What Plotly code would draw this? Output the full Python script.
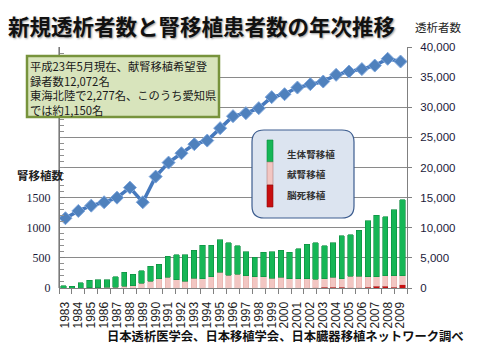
import plotly.graph_objects as go

# ---- data ----
line_years = ["1983", "1984", "1985", "1986", "1987", "1988", "1989", "1990", "1991",
              "1992", "1993", "1994", "1995", "1996", "1997", "1998", "1999", "2000",
              "2001", "2002", "2003", "2004", "2005", "2006", "2007", "2008", "2009"]
dialysis_new = [11580, 12790, 13670, 14230, 15000, 16660, 14230, 18490, 20810,
                22370, 23870, 24470, 26530, 28520, 29020, 29850, 31680, 32170,
                33270, 33830, 34270, 35380, 35930, 36330, 36920, 38040, 37590]

bar_years = ["1970", "1971", "1972", "1973", "1974", "1975", "1976", "1977", "1978", "1979",
             "1980", "1981", "1982", "1983", "1984", "1985", "1986", "1987", "1988", "1989",
             "1990", "1991", "1992", "1993", "1994", "1995", "1996", "1997", "1998", "1999",
             "2000", "2001", "2002", "2003", "2004", "2005", "2006", "2007", "2008", "2009"]
total_tx = [40, 30, 90, 125, 135, 138, 188, 262, 228, 290,
            358, 395, 527, 548, 550, 628, 712, 712, 797, 750,
            700, 598, 507, 595, 598, 628, 595, 655, 728, 755,
            700, 755, 867, 883, 961, 1117, 1211, 1183, 1300, 1461]
cadaver_tx = [0, 0, 0, 5, 5, 10, 15, 25, 40, 80,
              115, 150, 180, 140, 115, 158, 150, 186, 258, 214,
              230, 200, 190, 190, 165, 175, 155, 155, 155, 140,
              140, 160, 145, 185, 185, 170, 165, 175, 185, 150]
braindeath_tx = [0, 0, 0, 0, 0, 0, 0, 0, 0, 0,
                 0, 0, 0, 0, 0, 0, 0, 0, 0, 0,
                 0, 0, 0, 0, 0, 0, 0, 0, 0, 8,
                 12, 15, 10, 6, 6, 15, 25, 25, 15, 55]
living_tx = [t - c - b for t, c, b in zip(total_tx, cadaver_tx, braindeath_tx)]

left_ticks = [0, 500, 1000, 1500]

# ---- geometry helpers (pixel -> paper) ----
L, R, T, B = 59, 407, 47, 288
def fx(px): return (px - L) / (R - L)
def fy(py): return (B - py) / (B - T)

JP = "Noto Sans CJK JP"

fig = go.Figure()
fig.add_trace(go.Bar(x=bar_years, y=braindeath_tx, name="脳死移植", xaxis="x", yaxis="y",
                     marker=dict(color="#c80f10", line=dict(color="#8f0a0a", width=0.5))))
fig.add_trace(go.Bar(x=bar_years, y=cadaver_tx, name="献腎移植", xaxis="x", yaxis="y",
                     marker=dict(color="#f2c6c2", line=dict(color="#e2a9a4", width=0.5))))
fig.add_trace(go.Bar(x=bar_years, y=living_tx, name="生体腎移植", xaxis="x", yaxis="y",
                     marker=dict(color="#16b656", line=dict(color="#0c8a3e", width=0.6))))
fig.add_trace(go.Scatter(x=line_years, y=dialysis_new, name="透析者数", xaxis="x2", yaxis="y2",
                         mode="lines+markers",
                         line=dict(color="#4679bd", width=3.5),
                         marker=dict(symbol="diamond", size=10, color="#4f81bd",
                                     line=dict(color="#7ea6dc", width=1))))

fig.update_layout(
    width=499, height=359,
    margin=dict(l=L, r=499 - R, t=T, b=359 - B),
    paper_bgcolor="white", plot_bgcolor="white",
    barmode="stack", bargap=0.38, showlegend=False,
    font=dict(family="Liberation Sans", color="#222"),
    xaxis=dict(type="category", categoryorder="array", categoryarray=bar_years,
               range=[-0.5, len(bar_years) - 0.5],
               showticklabels=False, ticks="", showgrid=False, showline=False, zeroline=False),
    xaxis2=dict(type="category", categoryorder="array", categoryarray=line_years,
                range=[-0.5, len(line_years) - 0.5],
                overlaying="x", side="bottom",
                tickmode="linear", dtick=1,
                tickson="boundaries", ticks="outside", ticklen=5, tickcolor="#808080",
                tickangle=-90, tickfont=dict(size=12, family="Liberation Sans", color="#222"),
                showline=True, linecolor="#808080", showgrid=False, ticklabelstandoff=8),
    yaxis=dict(range=[0, 4000], tickmode="array", tickvals=left_ticks,
               anchor="free", position=0,
               ticks="inside", ticklen=5, tickcolor="#808080",
               showline=True, linecolor="#7a7a7a", linewidth=1.2,
               showgrid=False, zeroline=False,
               tickfont=dict(size=12, family="Liberation Sans Narrow", color="#1a1a3a"),
               ticklabelstandoff=6,
               minor=dict(ticks="inside", ticklen=4, dtick=100, tick0=0, tickcolor="#909090")),
    yaxis2=dict(range=[0, 40000], dtick=5000, tickformat=",", overlaying="y", side="right",
                showgrid=True, gridcolor="#8a8a8a", gridwidth=1, zeroline=False,
                showline=True, linecolor="#808080", ticks="outside", ticklen=4,
                tickcolor="#808080", ticklabelstandoff=6,
                tickfont=dict(size=11.5, family="Liberation Sans", color="#1a1a3a")),
)

shapes = []
# left axis line (ensures visibility)
shapes.append(dict(type="line", xref="paper", yref="paper", x0=0, x1=0, y0=0, y1=1,
                   line=dict(color="#7a7a7a", width=1.2), layer="above"))
# note box
shapes.append(dict(type="rect", xref="paper", yref="paper",
                   x0=fx(27), x1=fx(219), y0=fy(117), y1=fy(56),
                   fillcolor="#d8e4bc", line=dict(color="#77933c", width=2.5), layer="above"))
# legend rounded box
x0, x1, y0, y1 = fx(252), fx(354), fy(218), fy(130)
rx, ry = 12 / (R - L), 12 / (B - T)
path = (f"M {x0+rx},{y0} L {x1-rx},{y0} Q {x1},{y0} {x1},{y0+ry} "
        f"L {x1},{y1-ry} Q {x1},{y1} {x1-rx},{y1} L {x0+rx},{y1} Q {x0},{y1} {x0},{y1-ry} "
        f"L {x0},{y0+ry} Q {x0},{y0} {x0+rx},{y0} Z")
shapes.append(dict(type="path", xref="paper", yref="paper", path=path,
                   fillcolor="#dce4f0", line=dict(color="#3d5d8f", width=1.2), layer="above"))
# legend icon
shapes.append(dict(type="rect", xref="paper", yref="paper", x0=fx(267), x1=fx(273),
                   y0=fy(162), y1=fy(140), fillcolor="#16b656",
                   line=dict(color="#0c8a3e", width=0.6), layer="above"))
shapes.append(dict(type="rect", xref="paper", yref="paper", x0=fx(267), x1=fx(273),
                   y0=fy(185), y1=fy(162), fillcolor="#f2c6c2",
                   line=dict(color="#b08080", width=0.6), layer="above"))
shapes.append(dict(type="rect", xref="paper", yref="paper", x0=fx(267), x1=fx(273),
                   y0=fy(207), y1=fy(185), fillcolor="#c80f10",
                   line=dict(color="#8f0a0a", width=0.6), layer="above"))
fig.update_layout(shapes=shapes)

ann = []
def text(px, py, s, size, anchor="left", bold=False, color="#222", family=JP, shadow=None,
         yanchor="middle"):
    f = dict(size=size, family=family, color=color, weight="bold" if bold else "normal")
    if shadow:
        f["shadow"] = shadow
    ann.append(dict(x=fx(px), y=fy(py), xref="paper", yref="paper", text=s, align="left",
                    showarrow=False, xanchor=anchor, yanchor=yanchor, font=f))

text(6, 25, "新規透析者数と腎移植患者数の年次推移", 21.5, bold=True, color="#111",
     shadow="1px 1px 2px #999")
text(438, 27, "透析者数", 11.5, anchor="center", color="#222")
text(40, 175, "腎移植数", 11.5, anchor="center", bold=True, color="#222")
note_lines = ["平成23年5月現在、献腎移植希望登", "録者数12,072名",
              "東海北陸で2,277名、このうち愛知県", "では約1,150名"]
text(28, 88, "<br>".join(note_lines), 11.3, color="#1a1a1a")
text(285, 154, "生体腎移植", 9.6, bold=True, color="#333")
text(285, 174, "献腎移植", 9.6, bold=True, color="#333")
text(285, 195, "脳死移植", 9.6, bold=True, color="#333")
text(285, 336, "日本透析医学会、日本移植学会、日本臓器移植ネットワーク調べ", 12.3,
     anchor="center", bold=True, color="#111")
fig.update_layout(annotations=ann)

fig.write_html("out.html", config={"displayModeBar": False},
               post_script="document.body.style.margin='0px';")
